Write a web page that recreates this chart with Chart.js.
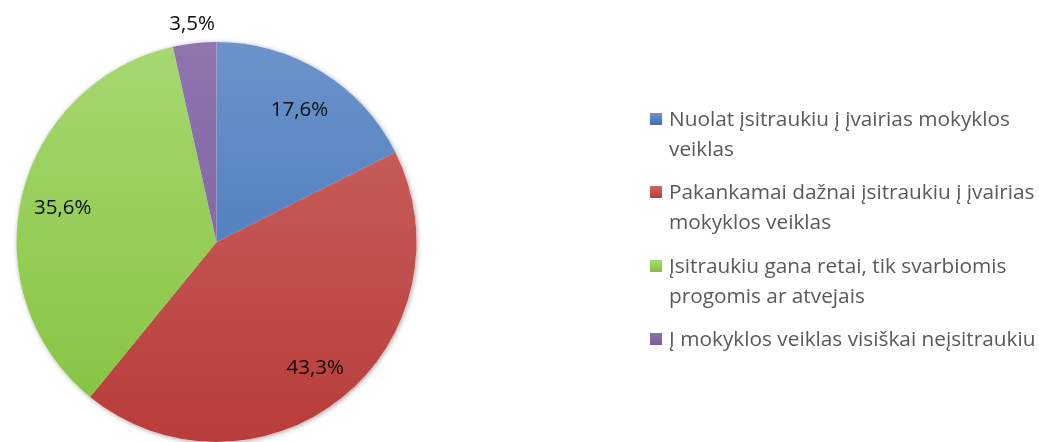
<!DOCTYPE html>
<html>
<head>
<meta charset="utf-8">
<script src="https://cdn.jsdelivr.net/npm/chart.js@4.4.1/dist/chart.umd.min.js"></script>
<style>
  html, body { margin: 0; padding: 0; background: #ffffff; overflow: hidden; }
  #wrap { position: relative; width: 1039px; height: 442px; }
  #chart { position: absolute; left: 0; top: 0; }
  #legend { position: absolute; left: 650px; top: 0; font-family: "Open Sans", sans-serif; font-size: 20.8px; color: #595959; }
  .item { position: absolute; left: 0; white-space: nowrap; line-height: 29.5px; }
  .item .box { position: absolute; left: 0; top: 9px; width: 12px; height: 12px; }
  .item .txt { position: absolute; left: 19px; top: 0; }
</style>
</head>
<body>
<div id="wrap">
  <canvas id="chart" width="1039" height="442"></canvas>
  <div id="legend"></div>
</div>
<script>
const categories = [
  ["Nuolat įsitraukiu į įvairias mokyklos", "veiklas"],
  ["Pakankamai dažnai įsitraukiu į įvairias", "mokyklos veiklas"],
  ["Įsitraukiu gana retai, tik svarbiomis", "progomis ar atvejais"],
  ["Į mokyklos veiklas visiškai neįsitraukiu"]
];
const percentValues = [17.6, 43.3, 35.6, 3.5];
const valueLabels = ["17,6%", "43,3%", "35,6%", "3,5%"];

const gradTop = ["#6b93cb", "#cb6764", "#a6d870", "#8f74ae"];
const gradBottom = ["#3d70b5", "#b83c3a", "#84c23e", "#7a5a9e"];
const solid = ["#4f81bd", "#c0504d", "#92d050", "#8064a2"];

function sliceFill(ctx) {
  const chart = ctx.chart;
  const area = chart.chartArea;
  if (!area) return solid[ctx.dataIndex];
  const g = chart.ctx.createLinearGradient(0, area.top, 0, area.bottom);
  g.addColorStop(0, gradTop[ctx.dataIndex]);
  g.addColorStop(1, gradBottom[ctx.dataIndex]);
  return g;
}

const shadowPlugin = {
  id: 'pieShadow',
  beforeDatasetsDraw(chart) {
    const arc = chart.getDatasetMeta(0).data[0];
    if (!arc) return;
    const c = chart.ctx;
    c.save();
    c.shadowColor = 'rgba(0,0,0,0.35)';
    c.shadowBlur = 5;
    c.shadowOffsetX = 1;
    c.shadowOffsetY = 1;
    c.fillStyle = '#ffffff';
    c.beginPath();
    c.arc(arc.x, arc.y, arc.outerRadius, 0, Math.PI * 2);
    c.fill();
    c.restore();
  }
};

const labelPlugin = {
  id: 'sliceLabels',
  afterDatasetsDraw(chart) {
    const c = chart.ctx;
    const meta = chart.getDatasetMeta(0);
    c.save();
    c.font = '20.5px "Open Sans", sans-serif';
    c.fillStyle = '#0d0d0d';
    c.textAlign = 'center';
    c.textBaseline = 'middle';
    meta.data.forEach((arc, i) => {
      const mid = (arc.startAngle + arc.endAngle) / 2;
      const f = percentValues[i] < 5 ? 1.11 : 0.79;
      const r = arc.outerRadius * f;
      c.fillText(valueLabels[i], arc.x + Math.cos(mid) * r, arc.y + Math.sin(mid) * r + 3);
    });
    c.restore();
  }
};

new Chart(document.getElementById('chart'), {
  type: 'pie',
  data: {
    labels: categories,
    datasets: [{
      data: percentValues,
      backgroundColor: sliceFill,
      borderWidth: 0
    }]
  },
  options: {
    responsive: false,
    animation: false,
    layout: { padding: { left: 16, top: 42, right: 622, bottom: 0 } },
    plugins: {
      legend: { display: false },
      tooltip: { enabled: false }
    }
  },
  plugins: [shadowPlugin, labelPlugin]
});

// HTML legend built from the categories
const legendTops = [104, 177, 251, 324];
const legend = document.getElementById('legend');
categories.forEach((lines, i) => {
  const item = document.createElement('div');
  item.className = 'item';
  item.style.top = legendTops[i] + 'px';
  const box = document.createElement('div');
  box.className = 'box';
  box.style.background = 'linear-gradient(' + gradTop[i] + ',' + gradBottom[i] + ')';
  const txt = document.createElement('div');
  txt.className = 'txt';
  txt.innerHTML = lines.join('<br>');
  item.appendChild(box);
  item.appendChild(txt);
  legend.appendChild(item);
});
</script>
</body>
</html>
